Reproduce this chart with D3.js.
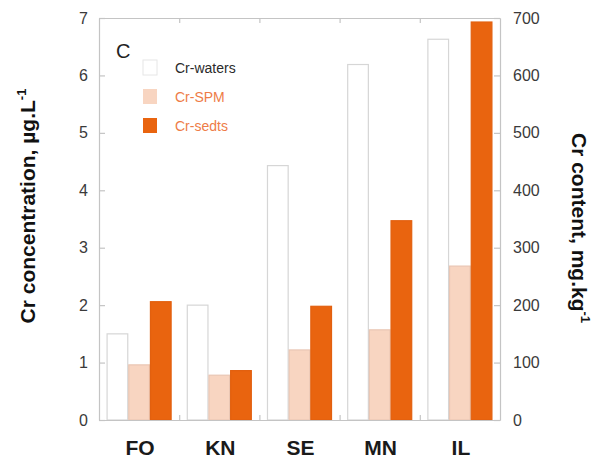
<!DOCTYPE html>
<html>
<head>
<meta charset="utf-8">
<script src="https://cdn.jsdelivr.net/npm/d3@7"></script>
<style>
  html, body { margin: 0; padding: 0; background: #fff; }
  svg { display: block; font-family: "Liberation Sans", Arial, Helvetica, sans-serif; }
</style>
</head>
<body>
<svg id="chart" width="598" height="464"></svg>
<script>
// Sites along the river
const sites = ["FO", "KN", "SE", "MN", "IL"];
// Dissolved Cr in waters, µg/L (left axis)
const crWaters = [1.5, 2.0, 4.43, 6.19, 6.63];
// Cr in suspended particulate matter, mg/kg (right axis)
const crSPM = [96, 78, 122, 157, 268];
// Cr in sediments, mg/kg (right axis)
const crSedts = [206, 86, 198, 347, 693];
// Axis ticks
const leftTicks = [0, 1, 2, 3, 4, 5, 6, 7];
const rightTicks = [0, 100, 200, 300, 400, 500, 600, 700];
const seriesNames = ["Cr-waters", "Cr-SPM", "Cr-sedts"];

const colors = {
  "Cr-waters": "#ffffff",
  "Cr-SPM": "#f8d5c1",
  "Cr-sedts": "#e9640f"
};
const strokes = {
  "Cr-waters": "#d6d6d6",
  "Cr-SPM": "#e9c6b4",
  "Cr-sedts": "#e2600f"
};

const svg = d3.select("#chart");
const L = 99, R = 500, T = 18, B = 420;

const x0 = d3.scaleBand().domain(sites).range([L, R]).padding(0);
const x1 = d3.scaleBand().domain(seriesNames).range([0, x0.bandwidth()])
  .paddingInner(0).paddingOuter(0.35);
const yL = d3.scaleLinear().domain([0, 7]).range([B, T]);
const yR = d3.scaleLinear().domain([0, 700]).range([B, T]);

// Bars
const rows = sites.map((s, i) => ({
  site: s,
  vals: [
    { key: "Cr-waters", v: crWaters[i], y: yL },
    { key: "Cr-SPM", v: crSPM[i], y: yR },
    { key: "Cr-sedts", v: crSedts[i], y: yR }
  ]
}));

const g = svg.append("g");
g.selectAll("g.site").data(rows).join("g")
  .attr("class", "site")
  .attr("transform", d => `translate(${x0(d.site)},0)`)
  .selectAll("rect").data(d => d.vals).join("rect")
  .attr("x", d => x1(d.key) + 0.5)
  .attr("width", x1.bandwidth() - 1)
  .attr("y", d => d.y(d.v))
  .attr("height", d => B - d.y(d.v))
  .attr("fill", d => colors[d.key])
  .attr("stroke", d => strokes[d.key])
  .attr("stroke-width", 1.2);

// Frame and axes
const axisColor = "#c4c4c4";
const tickColor = "#3a3a3a";

const leftAxis = d3.axisLeft(yL).tickValues(leftTicks).tickFormat(d3.format("d"))
  .tickSizeInner(-6).tickSizeOuter(0).tickPadding(11);
const rightAxis = d3.axisRight(yR).tickValues(rightTicks).tickFormat(d3.format("d"))
  .tickSizeInner(-6).tickSizeOuter(0).tickPadding(13);

const idx = d3.scaleLinear().domain([0, sites.length]).range([L, R]);
const bottomAxis = d3.axisBottom(idx).tickValues(d3.range(1, sites.length))
  .tickFormat("").tickSizeInner(-5).tickSizeOuter(0);
const topAxis = d3.axisTop(idx).tickValues(d3.range(1, sites.length))
  .tickFormat("").tickSizeInner(-5).tickSizeOuter(0);

function styleAxis(sel) {
  sel.select(".domain").attr("stroke", axisColor).attr("stroke-width", 1.2);
  sel.selectAll(".tick line").attr("stroke", axisColor).attr("stroke-width", 1.2);
  sel.selectAll(".tick text").attr("fill", tickColor)
    .style("font-size", "16px").style("font-family", "Liberation Sans, Arial, sans-serif");
}

svg.append("g").attr("transform", `translate(${L},0)`).call(leftAxis).call(styleAxis);
svg.append("g").attr("transform", `translate(${R},0)`).call(rightAxis).call(styleAxis);
svg.append("g").attr("transform", `translate(0,${B})`).call(bottomAxis).call(styleAxis);
svg.append("g").attr("transform", `translate(0,${T})`).call(topAxis).call(styleAxis);

// Site labels
svg.append("g").selectAll("text").data(sites).join("text")
  .attr("x", d => x0(d) + x0.bandwidth() / 2 + 1)
  .attr("y", 455)
  .attr("text-anchor", "middle")
  .attr("font-size", 21)
  .attr("font-weight", "bold")
  .attr("fill", "#1a1a1a")
  .text(d => d);

// Axis titles
const lt = svg.append("text")
  .attr("transform", "translate(35,206) rotate(-90)")
  .attr("text-anchor", "middle")
  .attr("font-size", 21)
  .attr("font-weight", "bold")
  .attr("fill", "#111");
lt.append("tspan").text("Cr concentration, µg.L");
lt.append("tspan").attr("dy", -9).attr("font-size", 13).text("-1");

const rt = svg.append("text")
  .attr("transform", "translate(572,228) rotate(90)")
  .attr("text-anchor", "middle")
  .attr("font-size", 21)
  .attr("font-weight", "bold")
  .attr("fill", "#111");
rt.append("tspan").text("Cr content, mg.kg");
rt.append("tspan").attr("dy", -9).attr("font-size", 13).text("-1");

// Panel letter
svg.append("text").attr("x", 116).attr("y", 58)
  .attr("font-size", 20).attr("fill", "#222").text("C");

// Legend
const legendText = { "Cr-waters": "#2a2a2a", "Cr-SPM": "#ee7c47", "Cr-sedts": "#ee7c47" };
const lg = svg.append("g").selectAll("g").data(seriesNames).join("g")
  .attr("transform", (d, i) => `translate(143,${60 + i * 29})`);
lg.append("rect")
  .attr("width", 14).attr("height", 15)
  .attr("fill", d => colors[d])
  .attr("stroke", d => d === "Cr-waters" ? "#e6e6e6" : "none");
lg.append("text")
  .attr("x", 32).attr("y", 12.5)
  .attr("font-size", 14)
  .attr("fill", d => legendText[d])
  .text(d => d);
</script>
</body>
</html>
